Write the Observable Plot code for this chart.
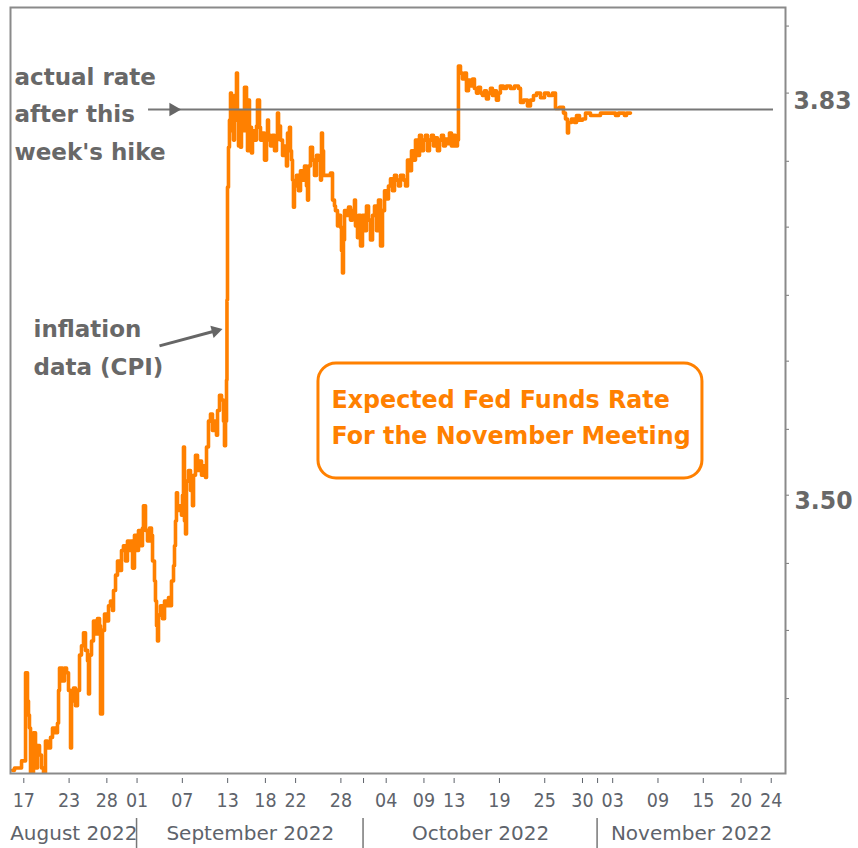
<!DOCTYPE html>
<html><head><meta charset="utf-8">
<script src="https://cdn.jsdelivr.net/npm/d3@7"></script>
<script src="https://cdn.jsdelivr.net/npm/@observablehq/plot@0.6"></script>
<style>
body{margin:0;background:#fff;}
#chart svg{display:block}
</style></head><body><div id="chart"></div>
<script>
// days since 2022-08-15 00:00 UTC
const dayOffsets = [0.50,0.77,1.70,2.23,2.49,2.62,2.75,2.89,3.28,3.55,3.68,3.81,4.08,4.34,4.61,4.87,5.14,5.54,5.80,6.20,6.46,6.60,6.73,7.13,7.39,7.66,7.92,8.19,8.32,8.58,8.85,9.11,9.38,9.64,9.91,10.17,10.44,10.57,10.70,10.97,11.23,11.50,11.76,12.03,12.16,12.42,12.69,12.95,13.22,13.48,13.75,13.88,14.15,14.41,14.68,14.94,15.20,15.47,15.73,16.00,16.13,16.40,16.66,16.93,17.19,17.46,17.72,17.85,18.12,18.38,18.65,18.91,19.05,19.31,19.44,19.58,19.71,19.84,20.11,20.37,20.64,20.90,21.17,21.43,21.56,21.83,21.96,22.09,22.22,22.36,22.62,22.89,23.02,23.15,23.28,23.42,23.55,23.81,24.08,24.34,24.48,24.74,25.01,25.27,25.54,25.80,26.07,26.20,26.46,26.73,26.99,27.26,27.52,27.66,27.92,28.19,28.45,28.58,28.72,28.85,28.91,28.98,29.11,29.24,29.38,29.51,29.64,29.77,29.91,30.04,30.17,30.30,30.44,30.57,30.70,30.83,31.10,31.23,31.50,31.63,31.76,31.89,32.03,32.16,32.29,32.56,32.82,32.95,33.22,33.35,33.62,33.88,34.15,34.28,34.41,34.68,34.94,35.21,35.47,35.60,35.74,36.00,36.27,36.53,36.79,36.93,37.19,37.32,37.46,37.59,37.72,37.85,38.12,38.38,38.65,38.91,39.18,39.44,39.58,39.71,39.97,40.24,40.50,40.77,41.03,41.30,41.43,41.56,41.70,42.62,42.89,43.15,43.28,43.55,43.81,43.95,44.08,44.21,44.34,44.48,44.74,45.01,45.27,45.54,45.80,45.93,46.20,46.33,46.60,46.86,47.13,47.39,47.66,47.92,48.19,48.45,48.72,48.98,49.25,49.51,49.78,50.04,50.30,50.57,50.83,51.10,51.36,51.63,51.89,52.29,52.56,52.82,53.09,53.35,53.62,53.88,54.14,54.41,54.67,54.94,55.20,55.47,55.73,56.00,56.26,56.53,56.79,57.06,57.32,57.59,57.85,58.11,58.38,58.64,58.91,59.17,59.44,59.57,59.84,60.10,60.37,60.63,60.90,61.16,61.43,61.69,61.96,62.22,62.49,62.75,63.02,63.28,63.54,63.81,64.07,64.34,64.60,64.87,65.13,65.53,65.93,66.46,66.99,67.52,67.79,68.18,68.71,69.11,69.51,69.91,70.44,70.97,71.50,72.03,72.42,72.95,73.48,73.75,74.01,74.15,74.54,74.94,75.21,75.60,76.00,76.40,77.06,78.38,79.71,80.37,80.77,81.56,81.83,82.36];
const rates = [3.268,3.270,3.276,3.351,3.327,3.315,3.304,3.262,3.300,3.276,3.270,3.289,3.281,3.270,3.262,3.293,3.287,3.296,3.304,3.300,3.308,3.336,3.355,3.344,3.355,3.351,3.336,3.287,3.327,3.338,3.323,3.336,3.366,3.374,3.385,3.370,3.361,3.333,3.366,3.378,3.395,3.384,3.397,3.391,3.316,3.387,3.401,3.395,3.408,3.412,3.404,3.421,3.434,3.446,3.438,3.455,3.459,3.446,3.463,3.455,3.463,3.440,3.468,3.455,3.472,3.459,3.474,3.493,3.472,3.463,3.474,3.468,3.446,3.429,3.412,3.391,3.378,3.400,3.408,3.397,3.412,3.408,3.415,3.408,3.429,3.442,3.459,3.480,3.504,3.489,3.493,3.485,3.502,3.543,3.480,3.469,3.514,3.523,3.506,3.493,3.519,3.536,3.523,3.531,3.519,3.527,3.517,3.543,3.565,3.571,3.557,3.565,3.553,3.574,3.587,3.583,3.565,3.544,3.565,3.600,3.668,3.764,3.798,3.821,3.844,3.812,3.838,3.804,3.842,3.821,3.861,3.829,3.799,3.821,3.798,3.829,3.812,3.849,3.829,3.795,3.838,3.804,3.815,3.793,3.812,3.804,3.816,3.838,3.815,3.804,3.810,3.787,3.804,3.821,3.808,3.799,3.808,3.795,3.804,3.827,3.816,3.804,3.791,3.799,3.782,3.810,3.815,3.795,3.787,3.770,3.747,3.765,3.774,3.761,3.778,3.770,3.782,3.765,3.753,3.782,3.798,3.787,3.774,3.791,3.787,3.770,3.810,3.795,3.774,3.776,3.753,3.748,3.744,3.731,3.740,3.730,3.710,3.691,3.719,3.744,3.740,3.747,3.736,3.744,3.753,3.731,3.721,3.740,3.714,3.740,3.727,3.748,3.736,3.719,3.740,3.748,3.727,3.753,3.714,3.744,3.761,3.754,3.765,3.771,3.761,3.774,3.770,3.765,3.774,3.770,3.765,3.787,3.778,3.795,3.787,3.804,3.791,3.808,3.795,3.804,3.808,3.795,3.804,3.808,3.799,3.806,3.795,3.804,3.808,3.799,3.805,3.801,3.810,3.799,3.808,3.799,3.804,3.867,3.861,3.856,3.861,3.846,3.855,3.850,3.856,3.848,3.844,3.849,3.844,3.842,3.846,3.839,3.844,3.848,3.842,3.846,3.838,3.844,3.850,3.848,3.850,3.848,3.850,3.848,3.836,3.838,3.833,3.838,3.842,3.844,3.840,3.844,3.842,3.844,3.831,3.832,3.827,3.822,3.810,3.819,3.822,3.819,3.825,3.821,3.822,3.827,3.825,3.827,3.827,3.825,3.827,3.825,3.827,3.827];

const tickDates = ["2022-08-17","2022-08-23","2022-08-28","2022-09-01","2022-09-07","2022-09-13","2022-09-18","2022-09-22","2022-09-28","2022-10-04","2022-10-09","2022-10-13","2022-10-19","2022-10-25","2022-10-30","2022-11-03","2022-11-09","2022-11-15","2022-11-20","2022-11-24"];
const unlabeledTickDates = ["2022-10-01","2022-11-01"];
const monthStarts = ["2022-08-01","2022-09-01","2022-10-01","2022-11-01","2022-12-01"];
const monthLabels = ["August 2022","September 2022","October 2022","November 2022"];
const yTickValues = [3.329,3.387,3.444,3.502,3.558,3.616,3.672,3.730,3.786,3.844,3.901];
const actualRate = 3.83;
const rateLabels = ["3.83","3.50"];
const note1 = ["actual rate","after this","week's hike"];
const note2 = ["inflation","data (CPI)"];
const boxLines = ["Expected Fed Funds Rate","For the November Meeting"];

const t0 = Date.UTC(2022,7,15);
const D = d => new Date(t0 + d*864e5);
const P = s => new Date(s + "T00:00:00Z");
const data = dayOffsets.map((d,i) => ({date: D(d), rate: rates[i]}));
const allTicks = tickDates.concat(unlabeledTickDates).map(P);
const labeled = new Set(tickDates.map(s => +P(s)));
const xDomain = [D(0.238), D(102.89)];
const months = monthLabels.map((label,i) => {
  const a = Math.max(+P(monthStarts[i]), +xDomain[0]);
  const b = Math.min(+P(monthStarts[i+1]), +xDomain[1]);
  return {label, mid: new Date((a+b)/2)};
});
const fmtDay = d3.utcFormat("%d");

const gray = "#686868";
const orange = "#ff8000";
const FONT = "DejaVu Sans";

const marks = [
  Plot.axisX(allTicks, {tickSize:5, dy:5, tickPadding:10, fontSize:19, color:"#5e636b", label:null,
    tickFormat: d => labeled.has(+d) ? fmtDay(d) : ""}),
  Plot.axisY(yTickValues, {anchor:"right", tickSize:3, tickFormat: () => "", color:"#777", label:null}),
  Plot.line(data, {x:"date", y:"rate", curve:"step-after", stroke:orange, strokeWidth:3.6, clip:true}),
  Plot.ruleY([actualRate], {x1: D(18.52), x2: D(101.3), stroke:"#777", strokeWidth:2}),
  Plot.dot([actualRate], {x: D(21.8), y: d => d, symbol:"triangle2", r:6.5, rotate:90, fill:"#666"}),
  Plot.link([0], {x1: D(19.97), y1: 3.629, x2: D(27.2), y2: 3.6415, stroke:"#666", strokeWidth:3}),
  Plot.dot([0], {x: D(27.39), y: 3.6417, symbol:"triangle2", r:6, rotate:75, fill:"#666"}),
  Plot.frame({stroke:"#8a8a8a", strokeWidth:2}),
  Plot.rect([0], {x1: D(41.03), x2: D(91.89), y1: 3.614, y2: 3.5162, rx:18, stroke:orange, strokeWidth:3, fill:"white"}),
  Plot.text(months, {x:"mid", text:"label", frameAnchor:"bottom", dy:60, lineAnchor:"middle", fontSize:20, fill:"#5e636b"}),
  Plot.text([rateLabels[0]], {y: actualRate, frameAnchor:"right", dx:8, dy:-9, textAnchor:"start", lineAnchor:"middle", fontSize:25, fontWeight:"bold", fill:gray}),
  Plot.text([rateLabels[1]], {y: 3.50, frameAnchor:"right", dx:9, dy:3, textAnchor:"start", lineAnchor:"middle", fontSize:25, fontWeight:"bold", fill:gray}),
  ...note1.map((t,i) => Plot.text([t], {frameAnchor:"top-left", dx:4, dy:61 + i*37.5, textAnchor:"start", lineAnchor:"top", fontSize:23, fontWeight:"bold", fill:gray})),
  ...note2.map((t,i) => Plot.text([t], {frameAnchor:"top-left", dx:23, dy:313 + i*38, textAnchor:"start", lineAnchor:"top", fontSize:23, fontWeight:"bold", fill:gray})),
  ...boxLines.map((t,i) => Plot.text([t], {frameAnchor:"top-left", dx:321, dy:383 + i*36, textAnchor:"start", lineAnchor:"top", fontSize:24, fontWeight:"bold", fill:orange}))
];

const chart = Plot.plot({
  width: 858, height: 848,
  marginLeft: 10, marginRight: 73, marginTop: 7, marginBottom: 75,
  style: {fontFamily: FONT, background: "white", overflow: "visible"},
  x: {type: "utc", domain: xDomain, axis: null},
  y: {domain: [3.2653, 3.9168], axis: null},
  marks
});
document.getElementById("chart").append(chart);

// month separators, placed with the x scale
const xs = chart.scale("x");
d3.select(chart).append("g").selectAll("line")
  .data(monthStarts.slice(1,4).map(P)).join("line")
  .attr("x1", d => xs.apply(d)).attr("x2", d => xs.apply(d))
  .attr("y1", 818).attr("y2", 848).attr("stroke", "#777").attr("stroke-width", 1.5);

// horizontal compression of some texts (matched by their content)
const squeeze = new Map();
tickDates.forEach(s => squeeze.set(fmtDay(P(s)), 0.92));
rateLabels.forEach(s => squeeze.set(s, 0.94));
boxLines.forEach(s => squeeze.set(s, 0.99));
chart.querySelectorAll("text").forEach(el => {
  const f = squeeze.get(el.textContent.trim());
  if (!f) return;
  const w = el.getComputedTextLength();
  if (w > 0) { el.setAttribute("textLength", (w*f).toFixed(1)); el.setAttribute("lengthAdjust", "spacingAndGlyphs"); }
});
</script></body></html>
